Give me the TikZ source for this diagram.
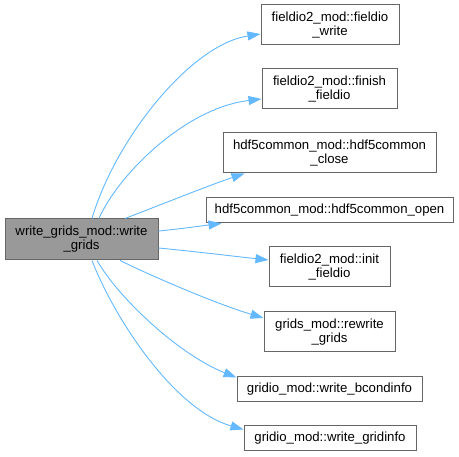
\documentclass[tikz,border=0pt]{standalone}
\usepackage{fontspec}
\setmainfont{Liberation Sans}
\usetikzlibrary{arrows.meta,calc}
\definecolor{edgeblue}{HTML}{63B8FF}
\definecolor{boxgray}{HTML}{666666}
\definecolor{mainfill}{HTML}{999999}
\begin{document}
\begin{tikzpicture}[x=1pt,y=-1pt,
  box/.style={draw=boxgray,line width=1pt,fill=white,inner sep=0pt,align=center,
    font=\fontsize{13.2}{14}\selectfont},
  mainbox/.style={box,fill=mainfill},
  call/.style={draw=edgeblue,line width=0.9pt,-{Triangle[length=13pt,width=9pt]}}]
\useasboundingbox (0,0) rectangle (459,457);
\node[mainbox,minimum width=153pt,minimum height=41pt] (main) at (81.5,239.5) {write\_grids\_mod::write\\\_grids};
\node[box,minimum width=138pt,minimum height=40pt] (n1) at (330,25) {fieldio2\_mod::fieldio\\\_write};
\node[box,minimum width=135pt,minimum height=40pt] (n2) at (329.5,89) {fieldio2\_mod::finish\\\_fieldio};
\node[box,minimum width=213pt,minimum height=40pt] (n3) at (329.5,153) {hdf5common\_mod::hdf5common\\\_close};
\node[box,minimum width=247pt,minimum height=25pt] (n4) at (329.5,210.5) {hdf5common\_mod::hdf5common\_open};
\node[box,minimum width=121pt,minimum height=40pt] (n5) at (329.5,267) {fieldio2\_mod::init\\\_fieldio};
\node[box,minimum width=131pt,minimum height=40pt] (n6) at (329.5,332) {grids\_mod::rewrite\\\_grids};
\node[box,minimum width=185pt,minimum height=25pt] (n7) at (329.5,389.5) {gridio\_mod::write\_bcondinfo};
\node[box,minimum width=172pt,minimum height=25pt] (n8) at (330,438.5) {gridio\_mod::write\_gridinfo};
\draw[call] ($(main.north)+(10.5,0)$) .. controls (115,140) and (190,45) .. ($(n1.west)+(0,9)$);
\draw[call] ($(main.north)+(17.5,0)$) .. controls (118,175) and (185,108) .. ($(n2.west)+(0,10)$);
\draw[call] ($(main.north)+(43.5,0)$) .. controls (160,205) and (210,185) .. ($(n3.south west)+(22,0)$);
\draw[call] ($(main.east)+(0,-8.5)$) .. controls (180,229) and (200,226) .. ($(n4.south west)+(16,0)$);
\draw[call] ($(main.east)+(0,8.5)$) .. controls (200,252) and (240,257) .. ($(n5.west)+(0,-7)$);
\draw[call] ($(main.south)+(38.5,0)$) .. controls (160,280) and (220,305) .. ($(n6.west)+(0,-14)$);
\draw[call] ($(main.south)+(15.5,0)$) .. controls (120,300) and (180,355) .. ($(n7.west)+(0,-12)$);
\draw[call] ($(main.south)+(10.5,0)$) .. controls (115,320) and (175,410) .. ($(n8.west)+(0,-9)$);
\end{tikzpicture}
\end{document}
